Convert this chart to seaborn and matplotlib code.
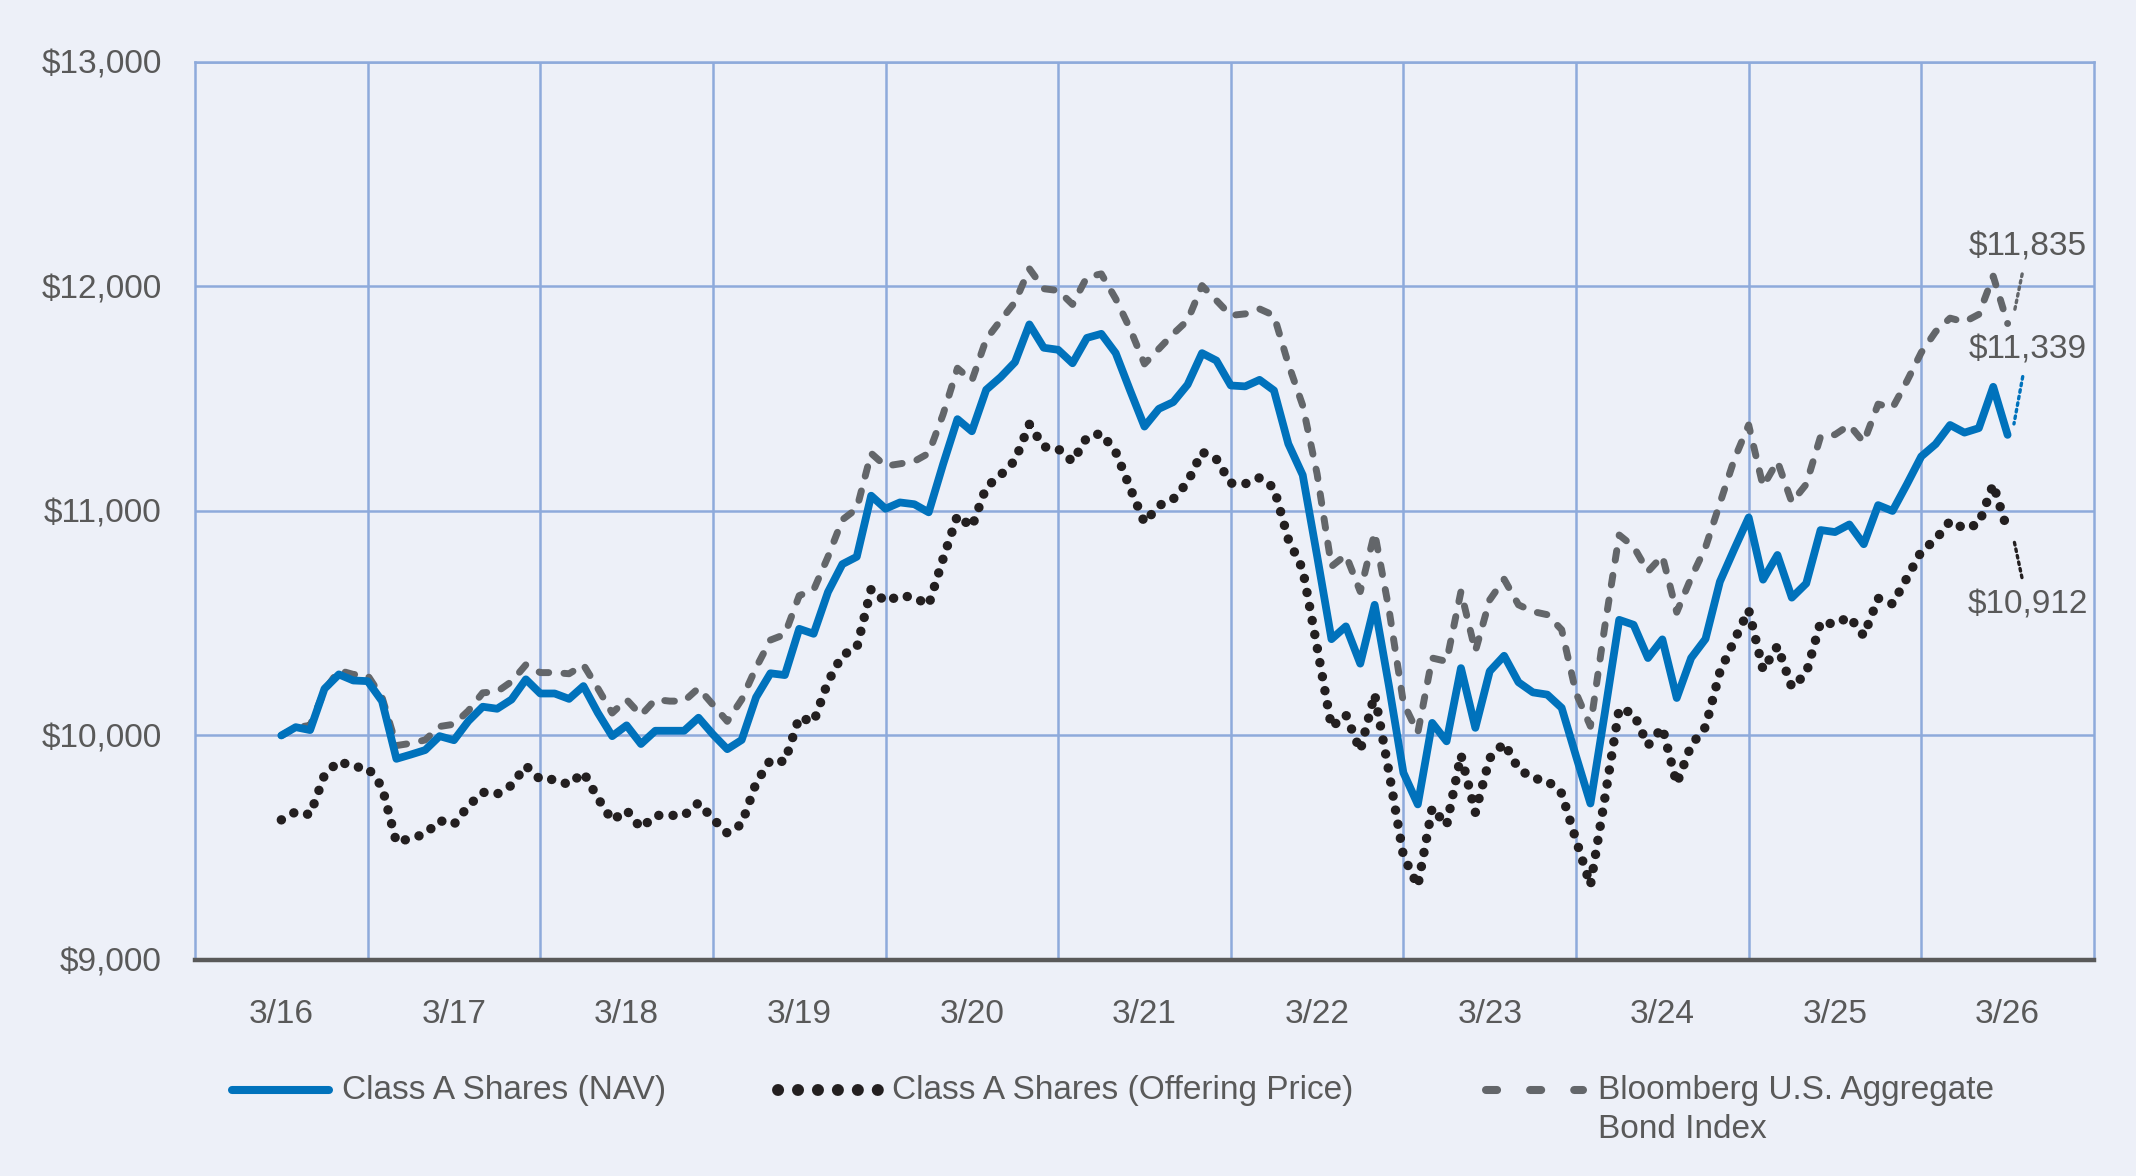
import matplotlib
matplotlib.use("Agg")
import matplotlib.pyplot as plt
from matplotlib.lines import Line2D
import numpy as np
import pandas as pd
import seaborn as sns

# monthly values, 3/16 .. 3/26 (121 month ends), growth of $10,000
nav = [
    10000, 10037, 10024, 10208, 10272, 10245, 10242, 10153, 9896, 9915, 9935, 9997,
    9979, 10064, 10128, 10119, 10160, 10250, 10187, 10187, 10163, 10220, 10101, 9997,
    10045, 9962, 10021, 10021, 10021, 10079, 10005, 9939, 9980, 10170, 10277, 10269,
    10475, 10453, 10639, 10763, 10796, 11068, 11010, 11038, 11030, 10994, 11208, 11409,
    11355, 11540, 11596, 11663, 11831, 11727, 11718, 11658, 11771, 11789, 11703, 11537,
    11376, 11455, 11485, 11563, 11703, 11670, 11559, 11555, 11584, 11537, 11299, 11160,
    10800, 10429, 10486, 10320, 10582, 10219, 9834, 9693, 10056, 9974, 10300, 10034,
    10286, 10355, 10237, 10192, 10182, 10123, 9908, 9697, 10100, 10515, 10493, 10345,
    10428, 10167, 10345, 10430, 10685, 10830, 10971, 10694, 10804, 10614, 10677, 10915,
    10906, 10940, 10852, 11026, 11000, 11119, 11243, 11298, 11383, 11349, 11369, 11553,
    11339,
]
offering = [
    9624, 9660, 9647, 9824, 9886, 9860, 9857, 9771, 9524, 9542, 9561, 9621,
    9604, 9686, 9747, 9739, 9778, 9865, 9804, 9804, 9781, 9836, 9721, 9621,
    9667, 9587, 9644, 9644, 9644, 9700, 9629, 9565, 9605, 9788, 9891, 9883,
    10081, 10060, 10239, 10358, 10390, 10652, 10596, 10623, 10615, 10581, 10787, 10980,
    10928, 11106, 11160, 11225, 11386, 11286, 11277, 11220, 11328, 11346, 11263, 11103,
    10948, 11024, 11053, 11128, 11263, 11231, 11124, 11121, 11148, 11103, 10874, 10740,
    10394, 10037, 10092, 9932, 10184, 9835, 9464, 9329, 9678, 9599, 9913, 9657,
    9899, 9966, 9852, 9809, 9799, 9742, 9535, 9332, 9720, 10120, 10098, 9956,
    10036, 9785, 9956, 10038, 10283, 10423, 10559, 10292, 10398, 10215, 10276, 10505,
    10496, 10529, 10444, 10611, 10586, 10701, 10820, 10873, 10955, 10922, 10942, 11119,
    10912,
]
bbg = [
    10000, 10035, 10045, 10200, 10290, 10272, 10268, 10170, 9955, 9965, 9980, 10040,
    10050, 10110, 10190, 10195, 10240, 10315, 10280, 10280, 10275, 10315, 10210, 10100,
    10160, 10090, 10160, 10153, 10153, 10211, 10137, 10063, 10160, 10302, 10425, 10450,
    10623, 10648, 10796, 10961, 11010, 11257, 11200, 11210, 11221, 11257, 11430, 11636,
    11580, 11765, 11849, 11930, 12079, 11990, 11982, 11920, 12042, 12056, 11945, 11811,
    11655, 11722, 11789, 11849, 12004, 11938, 11871, 11878, 11900, 11871, 11655, 11470,
    11165, 10753, 10804, 10641, 10904, 10560, 10145, 10012, 10345, 10330, 10641, 10375,
    10604, 10696, 10582, 10552, 10538, 10471, 10189, 10041, 10486, 10893, 10841, 10730,
    10800, 10549, 10702, 10838, 11034, 11230, 11383, 11110, 11221, 11039, 11119, 11332,
    11340, 11383, 11306, 11476, 11459, 11578, 11706, 11799, 11859, 11842, 11876, 12046,
    11835,
]
year_labels = ["3/16", "3/17", "3/18", "3/19", "3/20", "3/21",
               "3/22", "3/23", "3/24", "3/25", "3/26"]
y_ticks = [9000, 10000, 11000, 12000, 13000]
end_labels = ["$11,835", "$11,339", "$10,912"]

BG = "#EDF0F8"
GRID = "#8EAADB"
TXT = "#595959"
BLUE = "#0072BC"
GREY = "#63666A"
BLACK = "#231F20"

sns.set_style("white")
plt.rcParams["font.family"] = ["Liberation Sans", "DejaVu Sans"]

df = pd.DataFrame({"month": np.arange(len(nav)), "nav": nav,
                   "offering": offering, "bbg": bbg})

fig = plt.figure(figsize=(10.68, 5.88), dpi=200, facecolor=BG)
ax = fig.add_axes([0.0913, 0.1837, 0.889, 0.7636])
ax.set_facecolor(BG)

sns.lineplot(data=df, x="month", y="bbg", ax=ax, color=GREY, lw=2.5,
             estimator=None, linestyle=(0, (1.4, 2.2)),
             dash_capstyle="round", solid_joinstyle="round")
sns.lineplot(data=df, x="month", y="offering", ax=ax, color=BLACK, lw=3.4,
             estimator=None, linestyle=(0, (0.01, 1.5)), dash_capstyle="round")
sns.lineplot(data=df, x="month", y="nav", ax=ax, color=BLUE, lw=2.8,
             estimator=None, solid_joinstyle="round", solid_capstyle="round")

ax.set_xlim(-6, 126)
ax.set_ylim(9000, 13000)
ax.set_xticks(np.arange(0, 121, 12))
ax.set_xticklabels(year_labels)
ax.set_xticks(np.arange(6, 120, 12), minor=True)
ax.set_yticks(y_ticks)
ax.set_yticklabels([f"${v:,}" for v in y_ticks])
ax.grid(which="minor", axis="x", color=GRID, lw=0.9)
ax.grid(which="major", axis="y", color=GRID, lw=0.9)
ax.grid(which="major", axis="x", visible=False)
ax.tick_params(which="both", length=0)
ax.tick_params(axis="x", pad=14, labelsize=12, labelcolor=TXT)
ax.tick_params(axis="y", pad=12, labelsize=12, labelcolor=TXT)
ax.set_xlabel("")
ax.set_ylabel("")
for side in ["left", "right", "top"]:
    ax.spines[side].set_color(GRID)
    ax.spines[side].set_linewidth(0.9)
ax.spines["bottom"].set_color("#595959")
ax.spines["bottom"].set_linewidth(1.6)

# end-value labels with dotted leaders
last = len(nav) - 1
ends = [(bbg[-1], 12176, GREY), (nav[-1], 11719, BLUE), (offering[-1], 10583, BLACK)]
for (val, ty, col), lab in zip(ends, end_labels):
    ax.annotate(lab, xy=(last + 0.3, val), xytext=(121.4, ty),
                ha="center", va="center", fontsize=12, color=TXT,
                arrowprops=dict(arrowstyle="-", color=col, lw=1.2,
                                linestyle=(0, (0.8, 1.2)), shrinkA=2, shrinkB=4))

# legend drawn by hand to match the layout
W, H = 2136, 1176
def fx(px):
    return px / W
def fy(py):
    return 1 - py / H

ly = 1090
fig.add_artist(Line2D([fx(232), fx(329)], [fy(ly), fy(ly)], color=BLUE, lw=2.9,
                      solid_capstyle="round"))
fig.text(fx(342), fy(ly), "Class A Shares (NAV)", fontsize=12, color=TXT,
         ha="left", va="center")
fig.add_artist(Line2D([fx(778), fx(880)], [fy(ly), fy(ly)], color=BLACK, lw=4.3,
                      linestyle=(0, (0.01, 1.66)), dash_capstyle="round"))
fig.text(fx(892), fy(ly), "Class A Shares (Offering Price)", fontsize=12, color=TXT,
         ha="left", va="center")
fig.add_artist(Line2D([fx(1486), fx(1583)], [fy(ly), fy(ly)], color=GREY, lw=2.9,
                      linestyle=(0, (1.375, 4.1)), dash_capstyle="round"))
fig.text(fx(1598), fy(ly), "Bloomberg U.S. Aggregate", fontsize=12, color=TXT,
         ha="left", va="center")
fig.text(fx(1598), fy(1129), "Bond Index", fontsize=12, color=TXT,
         ha="left", va="center")

fig.savefig("out.png", dpi=200, facecolor=BG)
